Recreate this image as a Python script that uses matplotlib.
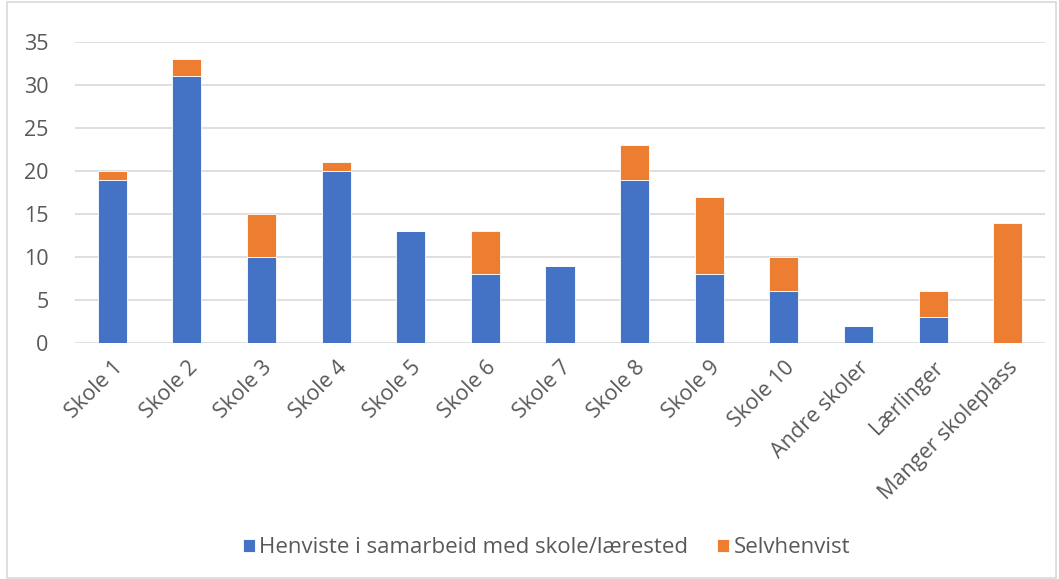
import matplotlib.pyplot as plt
import numpy as np
from matplotlib.patches import Rectangle

plt.rcParams['font.family'] = ['Open Sans', 'DejaVu Sans']

schools = ['Skole 1', 'Skole 2', 'Skole 3', 'Skole 4', 'Skole 5', 'Skole 6',
           'Skole 7', 'Skole 8', 'Skole 9', 'Skole 10', 'Andre skoler',
           'Lærlinger', 'Manger skoleplass']
referred = [19, 31, 10, 20, 13, 8, 9, 19, 8, 6, 2, 3, 0]
self_referred = [1, 2, 5, 1, 0, 5, 0, 4, 9, 4, 0, 3, 14]
yticks = [0, 5, 10, 15, 20, 25, 30, 35]

BLUE = '#4472c4'
ORANGE = '#ed7d31'
TEXT = '#595959'
GRID = '#d9d9d9'

fig = plt.figure(figsize=(10.59, 5.79), dpi=100)
ax = fig.add_axes([0.0708, 0.4076, 0.916, 0.52])

x = np.arange(len(schools))
ax.bar(x, referred, width=0.39, color=BLUE, edgecolor='white', linewidth=0.6,
       label='Henviste i samarbeid med skole/lærested', zorder=3)
ax.bar(x, self_referred, width=0.39, bottom=referred, color=ORANGE,
       edgecolor='white', linewidth=0.6, label='Selvhenvist', zorder=3)

ax.set_xlim(-0.5, len(schools) - 0.5)
ax.set_ylim(0, 35)
ax.set_yticks(yticks)
ax.yaxis.grid(True, color=GRID, linewidth=1.2, zorder=0)
ax.set_xticks(x)
ax.set_xticklabels(schools, rotation=45, ha='right', rotation_mode='anchor')
ax.tick_params(axis='both', length=0, labelsize=15.5, labelcolor=TEXT)
ax.tick_params(axis='y', pad=19)
ax.tick_params(axis='x', pad=10)
for s in ax.spines.values():
    s.set_visible(False)

fig.legend(loc='center', bbox_to_anchor=(0.516, 0.054), ncol=2, frameon=False,
           fontsize=16, labelcolor=TEXT, handlelength=0.55, handleheight=0.55,
           handletextpad=0.2, columnspacing=1.3)

# thin frame round the whole chart
fig.patches.append(Rectangle((0.007, 0.002), 0.99, 0.995, transform=fig.transFigure,
                             fill=False, edgecolor=GRID, linewidth=1.2))

fig.savefig('out.png', dpi=100)
